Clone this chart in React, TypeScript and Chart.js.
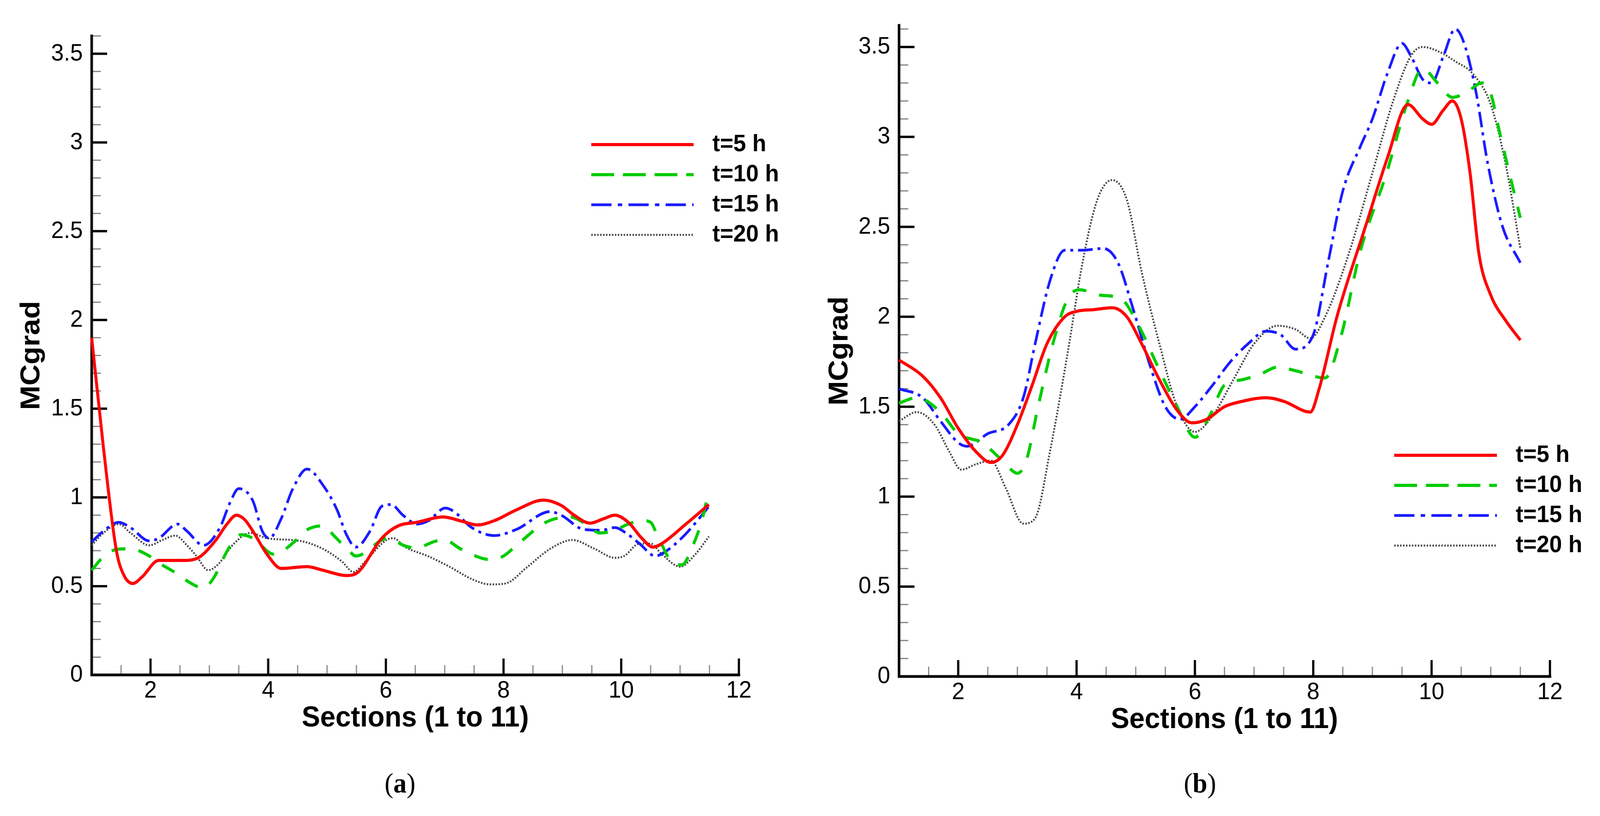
import { useEffect, useRef, useState } from "react"
import { Chart, registerables } from "chart.js"

Chart.register(...registerables)

type Pt = [number, number]

// axis ticks and legend labels
const xTickValues = [2, 4, 6, 8, 10, 12]
const yTickValues = [0, 0.5, 1, 1.5, 2, 2.5, 3, 3.5]
const seriesLabels = ["t=5 h", "t=10 h", "t=15 h", "t=20 h"]

// panel (a) curves, [section, MCgrad]
const a5: Pt[] = [
  [1.0, 1.9], [1.2, 1.28], [1.42, 0.7], [1.55, 0.56], [1.7, 0.515], [1.85, 0.55], [2.14, 0.645], [2.54, 0.645],
  [2.78, 0.655], [3.1, 0.755], [3.3, 0.85], [3.46, 0.9], [3.6, 0.875], [3.74, 0.81], [3.98, 0.68], [4.22, 0.6],
  [4.66, 0.61], [4.93, 0.59], [5.33, 0.56], [5.53, 0.58], [5.93, 0.77], [6.21, 0.84], [6.53, 0.86], [6.97, 0.89],
  [7.3, 0.865], [7.55, 0.845], [7.85, 0.87], [8.22, 0.93], [8.68, 0.985], [8.98, 0.955], [9.2, 0.9], [9.47, 0.855],
  [9.7, 0.88], [9.89, 0.9], [10.12, 0.86], [10.35, 0.77], [10.54, 0.72], [10.69, 0.74], [11.1, 0.85], [11.49, 0.96],
]
const a10: Pt[] = [
  [1.0, 0.59], [1.18, 0.66], [1.35, 0.7], [1.54, 0.71], [1.66, 0.71], [1.98, 0.67], [2.1, 0.64], [2.5, 0.56],
  [2.62, 0.53], [2.9, 0.49], [3.06, 0.54], [3.34, 0.72], [3.54, 0.79], [3.74, 0.77], [4.1, 0.68], [4.46, 0.755],
  [4.62, 0.81], [4.93, 0.84], [5.13, 0.78], [5.37, 0.7], [5.49, 0.67], [5.6, 0.68], [5.93, 0.76], [6.05, 0.77],
  [6.3, 0.73], [6.5, 0.715], [6.86, 0.755], [7.0, 0.76], [7.27, 0.71], [7.77, 0.65], [8.0, 0.67], [8.22, 0.73],
  [8.72, 0.86], [9.13, 0.89], [9.4, 0.85], [9.63, 0.8], [9.85, 0.81], [10.12, 0.85], [10.35, 0.87], [10.5, 0.86],
  [10.61, 0.79], [10.88, 0.63], [11.03, 0.62], [11.22, 0.73], [11.37, 0.87], [11.49, 1.04],
]
const a15: Pt[] = [
  [1.0, 0.75], [1.2, 0.81], [1.46, 0.86], [1.66, 0.83], [1.98, 0.755], [2.14, 0.77], [2.46, 0.85], [2.62, 0.81],
  [2.9, 0.73], [3.18, 0.83], [3.35, 0.97], [3.5, 1.05], [3.74, 0.98], [3.9, 0.81], [4.02, 0.77], [4.22, 0.88],
  [4.42, 1.05], [4.66, 1.16], [4.93, 1.07], [5.17, 0.93], [5.33, 0.79], [5.49, 0.72], [5.73, 0.81], [5.93, 0.95],
  [6.09, 0.96], [6.29, 0.9], [6.53, 0.85], [6.73, 0.87], [7.01, 0.94], [7.16, 0.92], [7.46, 0.83], [7.84, 0.785],
  [8.22, 0.82], [8.79, 0.92], [8.98, 0.9], [9.36, 0.82], [9.66, 0.815], [9.89, 0.83], [10.12, 0.79], [10.31, 0.74],
  [10.58, 0.67], [10.73, 0.69], [11.07, 0.785], [11.37, 0.9], [11.49, 0.95],
]
const a20: Pt[] = [
  [1.0, 0.73], [1.2, 0.8], [1.46, 0.85], [1.66, 0.8], [1.98, 0.73], [2.2, 0.76], [2.42, 0.785], [2.62, 0.73],
  [2.78, 0.67], [2.98, 0.59], [3.14, 0.62], [3.42, 0.74], [3.7, 0.8], [3.98, 0.77], [4.54, 0.755], [4.93, 0.71],
  [5.25, 0.64], [5.45, 0.58], [5.65, 0.64], [6.01, 0.76], [6.13, 0.77], [6.33, 0.72], [6.71, 0.67], [7.08, 0.61],
  [7.46, 0.54], [7.77, 0.51], [8.03, 0.515], [8.41, 0.61], [8.79, 0.71], [9.17, 0.76], [9.55, 0.71], [9.89, 0.66],
  [10.05, 0.67], [10.31, 0.74], [10.5, 0.74], [10.69, 0.68], [11.0, 0.61], [11.26, 0.68], [11.49, 0.78],
]

// panel (b) curves
const b5: Pt[] = [
  [1.0, 1.76], [1.4, 1.67], [1.7, 1.55], [2.0, 1.38], [2.3, 1.25], [2.55, 1.19], [2.75, 1.23], [3.0, 1.4],
  [3.25, 1.62], [3.5, 1.85], [3.8, 2.0], [4.0, 2.03], [4.3, 2.04], [4.6, 2.05], [4.85, 2.0], [5.1, 1.85],
  [5.4, 1.65], [5.7, 1.48], [5.95, 1.41], [6.2, 1.43], [6.5, 1.5], [6.8, 1.53], [7.2, 1.55], [7.5, 1.53],
  [7.95, 1.47], [8.1, 1.6], [8.4, 2.0], [8.9, 2.52], [9.25, 2.88], [9.6, 3.18], [9.85, 3.1], [10.0, 3.07],
  [10.2, 3.15], [10.35, 3.2], [10.5, 3.1], [10.65, 2.8], [10.8, 2.35], [11.0, 2.12], [11.25, 1.98], [11.5, 1.87],
]
const b10: Pt[] = [
  [1.0, 1.52], [1.3, 1.55], [1.7, 1.47], [2.0, 1.35], [2.4, 1.3], [2.75, 1.2], [3.0, 1.13], [3.15, 1.2],
  [3.35, 1.5], [3.6, 1.85], [3.85, 2.1], [4.05, 2.15], [4.4, 2.12], [4.75, 2.1], [5.05, 1.95], [5.35, 1.74],
  [5.7, 1.5], [6.0, 1.33], [6.25, 1.45], [6.5, 1.62], [6.8, 1.65], [7.1, 1.68], [7.4, 1.72], [7.7, 1.7],
  [8.2, 1.66], [8.46, 1.88], [8.8, 2.37], [9.24, 2.8], [9.58, 3.18], [9.85, 3.38], [10.1, 3.3], [10.35, 3.22],
  [10.6, 3.25], [10.85, 3.3], [11.0, 3.24], [11.14, 3.04], [11.35, 2.75], [11.5, 2.55],
]
const b15: Pt[] = [
  [1.0, 1.6], [1.4, 1.55], [1.7, 1.42], [2.0, 1.3], [2.15, 1.28], [2.5, 1.35], [2.85, 1.4], [3.1, 1.55],
  [3.3, 1.85], [3.55, 2.2], [3.8, 2.37], [4.1, 2.37], [4.45, 2.38], [4.7, 2.3], [4.95, 2.05], [5.25, 1.72],
  [5.5, 1.5], [5.75, 1.43], [6.0, 1.5], [6.3, 1.62], [6.6, 1.75], [6.9, 1.85], [7.2, 1.92], [7.45, 1.9],
  [7.7, 1.82], [8.0, 1.9], [8.25, 2.3], [8.5, 2.7], [8.8, 2.95], [9.0, 3.1], [9.25, 3.35], [9.5, 3.52],
  [9.65, 3.45], [9.85, 3.32], [10.0, 3.3], [10.2, 3.45], [10.4, 3.6], [10.55, 3.52], [10.75, 3.25], [10.95, 2.85],
  [11.2, 2.5], [11.5, 2.3],
]
const b20: Pt[] = [
  [1.0, 1.42], [1.3, 1.47], [1.6, 1.4], [1.85, 1.25], [2.05, 1.15], [2.3, 1.18], [2.55, 1.2], [2.8, 1.05],
  [3.1, 0.85], [3.3, 0.88], [3.55, 1.25], [3.85, 1.8], [4.1, 2.3], [4.35, 2.65], [4.6, 2.76], [4.85, 2.65],
  [5.1, 2.25], [5.4, 1.85], [5.7, 1.5], [6.0, 1.36], [6.3, 1.45], [6.65, 1.65], [7.0, 1.85], [7.4, 1.95],
  [7.7, 1.93], [7.95, 1.88], [8.2, 2.0], [8.6, 2.35], [9.0, 2.8], [9.35, 3.2], [9.65, 3.45], [9.85, 3.5],
  [10.15, 3.47], [10.4, 3.42], [10.7, 3.35], [11.0, 3.18], [11.25, 2.85], [11.5, 2.38],
]

const SANS = '"Liberation Sans", Arial, sans-serif'
const SERIF = '"Liberation Serif", "Times New Roman", serif'
const PAGE_W = 4346
const PAGE_H = 2088

// curve dashes are tighter than the legend samples in the original
const seriesStyle = [
  { color: "#ff0000", width: 8, dash: [] as number[], legendDash: [] as number[] },
  { color: "#00cc00", width: 8, dash: [38, 36], legendDash: [62, 24] },
  { color: "#1a1aff", width: 7, dash: [40, 13, 8, 13], legendDash: [55, 17, 12, 17] },
  { color: "#444444", width: 5, dash: [4, 4], legendDash: [4, 4] },
]

// left/bottom axis lines with inward major and minor ticks
const framePlugin = {
  id: "frame",
  beforeDatasetsDraw(chart: any) {
    const { ctx, chartArea: a, scales } = chart
    const xs = scales.x
    const ys = scales.y
    const seg = (x1: number, y1: number, x2: number, y2: number) => {
      ctx.beginPath()
      ctx.moveTo(x1, y1)
      ctx.lineTo(x2, y2)
      ctx.stroke()
    }
    ctx.save()
    ctx.strokeStyle = "#808080"
    ctx.lineWidth = 3
    for (let i = 3; i < 24; i++) {
      if (i % 4 === 0) continue
      const px = xs.getPixelForValue(i / 2)
      seg(px, a.bottom, px, a.bottom - 25)
    }
    for (let i = 1; i <= Math.floor(ys.max * 10 + 1e-6); i++) {
      if (i % 5 === 0) continue
      const py = ys.getPixelForValue(i / 10)
      seg(a.left, py, a.left + 25, py)
    }
    ctx.strokeStyle = "#000"
    ctx.lineWidth = 6
    xTickValues.forEach((v) => {
      const px = xs.getPixelForValue(v)
      seg(px, a.bottom, px, a.bottom - 42)
    })
    yTickValues.forEach((v) => {
      const py = ys.getPixelForValue(v)
      seg(a.left, py, a.left + 42, py)
    })
    ctx.lineWidth = 7
    ctx.lineCap = "square"
    ctx.beginPath()
    ctx.moveTo(a.left, a.top)
    ctx.lineTo(a.left, a.bottom)
    ctx.lineTo(a.right, a.bottom)
    ctx.stroke()
    ctx.restore()
  },
}

// legend drawn inside the plot area
const insideLegend = {
  id: "insideLegend",
  afterDraw(chart: any, _args: any, opts: any) {
    const { ctx } = chart
    chart.data.datasets.forEach((ds: any, i: number) => {
      const y = opts.top + i * opts.rowGap
      ctx.save()
      ctx.strokeStyle = ds.borderColor
      ctx.lineWidth = ds.borderWidth
      ctx.setLineDash(seriesStyle[i].legendDash)
      ctx.beginPath()
      ctx.moveTo(opts.lineStart, y)
      ctx.lineTo(opts.lineEnd, y)
      ctx.stroke()
      ctx.fillStyle = "#000"
      ctx.font = `bold ${opts.fontSize}px ${SANS}`
      ctx.textBaseline = "middle"
      ctx.fillText(ds.label, opts.textStart, y)
      ctx.restore()
    })
  },
}

type PanelProps = {
  series: Pt[][]
  left: number
  yMax: number
  padding: { left: number; right: number; top: number; bottom: number }
  yWidth: number
  legend: { lineStart: number; lineEnd: number; textStart: number; top: number; rowGap: number; fontSize: number }
  tag: string
}

function Panel({ series, left, yMax, padding, yWidth, legend, tag }: PanelProps) {
  const canvasRef = useRef<HTMLCanvasElement>(null)

  useEffect(() => {
    if (!canvasRef.current) return
    const chart = new Chart(canvasRef.current, {
      type: "line",
      data: {
        datasets: series.map((pts, i) => ({
          label: seriesLabels[i],
          data: pts.map(([x, y]) => ({ x, y })),
          borderColor: seriesStyle[i].color,
          borderWidth: seriesStyle[i].width,
          borderDash: seriesStyle[i].dash,
          pointRadius: 0,
          cubicInterpolationMode: "monotone",
          fill: false,
          clip: false,
        })),
      },
      options: {
        responsive: false,
        animation: false,
        devicePixelRatio: 1,
        layout: { padding },
        plugins: {
          legend: { display: false },
          tooltip: { enabled: false },
          insideLegend: legend,
        } as any,
        scales: {
          x: {
            type: "linear",
            min: 1,
            max: 12,
            afterBuildTicks: (s: any) => {
              s.ticks = xTickValues.map((value) => ({ value }))
            },
            afterFit: (s: any) => {
              s.height = 156
            },
            grid: { display: false, drawTicks: false },
            border: { display: false },
            ticks: {
              autoSkip: false,
              maxRotation: 0,
              padding: 4,
              color: "#000",
              font: { family: SANS, size: 62 },
              callback: (v: any) => String(v),
            },
            title: {
              display: true,
              text: "Sections (1 to 11)",
              color: "#000",
              padding: 0,
              font: { family: SANS, size: 75, weight: "bold" },
            },
          },
          y: {
            type: "linear",
            min: 0,
            max: yMax,
            afterBuildTicks: (s: any) => {
              s.ticks = yTickValues.map((value) => ({ value }))
            },
            afterFit: (s: any) => {
              s.width = yWidth
            },
            grid: { display: false, drawTicks: false },
            border: { display: false },
            ticks: {
              autoSkip: false,
              padding: 24,
              color: "#000",
              font: { family: SANS, size: 62 },
              callback: (v: any) => String(v),
            },
            title: {
              display: true,
              text: "MCgrad",
              color: "#000",
              padding: 0,
              font: { family: SANS, size: 75, weight: "bold" },
            },
          },
        },
      },
      plugins: [framePlugin, insideLegend],
    })
    return () => chart.destroy()
  }, [])

  return (
    <>
      <canvas
        ref={canvasRef}
        width={2173}
        height={2088}
        style={{ position: "absolute", left, top: 0, width: 2173, height: 2088 }}
      />
      <div
        style={{
          position: "absolute",
          left,
          top: 1968,
          width: 2173,
          textAlign: "center",
          fontFamily: SERIF,
          fontSize: 72,
          lineHeight: "72px",
          color: "#000",
        }}
      >
        (<b>{tag}</b>)
      </div>
    </>
  )
}

export default function App() {
  // the real viewport is narrower than 4346, so fit the fixed drawing to it
  const [fit, setFit] = useState({ sx: 1, sy: 1 })

  useEffect(() => {
    const w = document.documentElement.clientWidth
    const h = document.documentElement.clientHeight
    setFit({ sx: w / PAGE_W, sy: h / PAGE_H })
  }, [])

  return (
    <div
      style={{
        position: "fixed",
        left: 0,
        top: 0,
        width: PAGE_W,
        height: PAGE_H,
        background: "#fff",
        overflow: "hidden",
        transformOrigin: "0 0",
        transform: `scale(${fit.sx}, ${fit.sy})`,
      }}
    >
      <Panel
        series={[a5, a10, a15, a20]}
        left={0}
        yMax={3.6}
        padding={{ left: 41, right: 166, top: 92, bottom: 205 }}
        yWidth={208}
        legend={{ lineStart: 1606, lineEnd: 1884, textStart: 1935, top: 370, rowGap: 77, fontSize: 62 }}
        tag="a"
      />
      <Panel
        series={[b5, b10, b15, b20]}
        left={2173}
        yMax={3.62}
        padding={{ left: 63, right: 136, top: 65, bottom: 201 }}
        yWidth={206}
        legend={{ lineStart: 1614, lineEnd: 1893, textStart: 1944, top: 1165, rowGap: 77, fontSize: 62 }}
        tag="b"
      />
    </div>
  )
}
